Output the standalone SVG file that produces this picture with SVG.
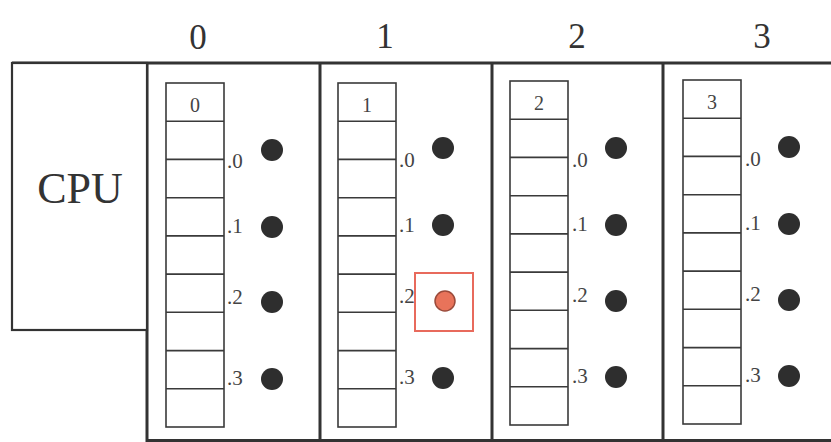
<svg xmlns="http://www.w3.org/2000/svg" xmlns:xlink="http://www.w3.org/1999/xlink" width="831" height="442" viewBox="0 0 831 442">
<style>
.frame{fill:none;stroke:#333;stroke-width:3}
.cpu{fill:#fff;stroke:#333;stroke-width:2.2}
.cell{fill:#fff;stroke:#3a3a3a;stroke-width:1.6}
.dot{fill:#2e2e2e}
.hdr{font-family:"Liberation Serif",serif;font-size:35px;fill:#333;text-anchor:middle}
.big{font-family:"Liberation Serif",serif;font-size:44px;fill:#333;text-anchor:middle}
.small{font-family:"Liberation Serif",serif;font-size:20px;fill:#444;text-anchor:middle}
.lbl{font-family:"Liberation Serif",serif;font-size:21px;fill:#444}
.hl{fill:none;stroke:#e86a5c;stroke-width:2}
.hdot{fill:#e8735a;stroke:#9a4a3a;stroke-width:1.5}
</style>
<defs>
<g id="stack">
<rect class="cell" x="0" y="0" width="58" height="344"/>
<path class="cell" d="M0 38.2H58M0 76.4H58M0 114.7H58M0 152.9H58M0 191.1H58M0 229.3H58M0 267.6H58M0 305.8H58"/>
</g>
</defs>
<rect width="831" height="442" fill="#fff"/>
<g id="frame">
<line class="frame" x1="12" y1="63" x2="831" y2="63"/>
<line class="frame" x1="147" y1="63" x2="147" y2="442"/>
<line class="frame" x1="320" y1="63" x2="320" y2="442"/>
<line class="frame" x1="492" y1="63" x2="492" y2="442"/>
<line class="frame" x1="663" y1="63" x2="663" y2="442"/>
<line class="frame" x1="147" y1="440.5" x2="831" y2="440.5"/>
</g>
<g id="cpu">
<rect class="cpu" x="12" y="63" width="135" height="267"/>
<text class="big" x="80" y="203">CPU</text>
</g>
<g id="node0">
<text class="hdr" x="198" y="49">0</text>
<use xlink:href="#stack" x="166" y="83"/>
<text class="small" x="195" y="112">0</text>
<text class="lbl" x="227" y="168">.0</text>
<text class="lbl" x="227" y="233">.1</text>
<text class="lbl" x="227" y="304">.2</text>
<text class="lbl" x="227" y="385">.3</text>
<circle class="dot" cx="272" cy="150" r="11"/>
<circle class="dot" cx="272" cy="227" r="11"/>
<circle class="dot" cx="272" cy="302" r="11"/>
<circle class="dot" cx="272" cy="379" r="11"/>
</g>
<g id="node1">
<text class="hdr" x="385" y="48">1</text>
<use xlink:href="#stack" x="338" y="83"/>
<text class="small" x="367" y="112">1</text>
<text class="lbl" x="399" y="167">.0</text>
<text class="lbl" x="399" y="232">.1</text>
<text class="lbl" x="399" y="303">.2</text>
<text class="lbl" x="399" y="384">.3</text>
<circle class="dot" cx="443" cy="148" r="11"/>
<circle class="dot" cx="443" cy="225" r="11"/>
<rect class="hl" x="415" y="273" width="58" height="58"/>
<circle class="hdot" cx="445" cy="301" r="10"/>
<circle class="dot" cx="443" cy="378" r="11"/>
</g>
<g id="node2">
<text class="hdr" x="577" y="48">2</text>
<use xlink:href="#stack" x="510" y="81"/>
<text class="small" x="539" y="110">2</text>
<text class="lbl" x="572" y="167">.0</text>
<text class="lbl" x="572" y="231">.1</text>
<text class="lbl" x="572" y="302">.2</text>
<text class="lbl" x="572" y="383">.3</text>
<circle class="dot" cx="616" cy="148" r="11"/>
<circle class="dot" cx="616" cy="225" r="11"/>
<circle class="dot" cx="616" cy="301" r="11"/>
<circle class="dot" cx="616" cy="377" r="11"/>
</g>
<g id="node3">
<text class="hdr" x="762" y="48">3</text>
<use xlink:href="#stack" x="683" y="80"/>
<text class="small" x="712" y="109">3</text>
<text class="lbl" x="745" y="166">.0</text>
<text class="lbl" x="745" y="230">.1</text>
<text class="lbl" x="745" y="301">.2</text>
<text class="lbl" x="745" y="382">.3</text>
<circle class="dot" cx="789" cy="147" r="11"/>
<circle class="dot" cx="789" cy="224" r="11"/>
<circle class="dot" cx="789" cy="300" r="11"/>
<circle class="dot" cx="789" cy="376" r="11"/>
</g>
</svg>
